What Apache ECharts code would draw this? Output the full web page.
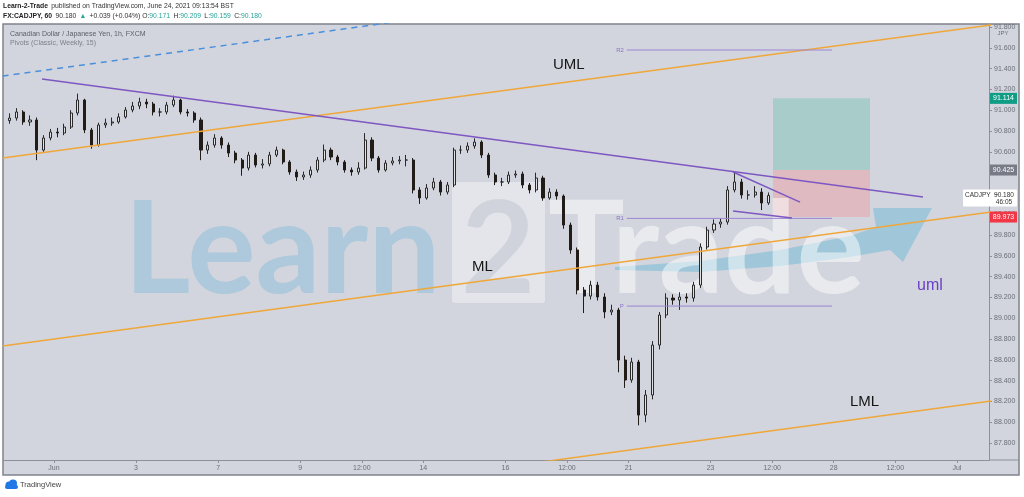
<!DOCTYPE html>
<html><head><meta charset="utf-8">
<script src="https://cdn.jsdelivr.net/npm/echarts@6/dist/echarts.min.js"></script>
<style>html,body{margin:0;padding:0;background:#fff;}#c{width:1024px;height:497px;}</style>
</head><body><div id="c"></div>
<script>
// ---- data ----
// 4-hour candles, time axis in trading hours since Jun 1 00:00
const candleStart = -26, candleStep = 4;
const firstOpen = 90.90;
const closes = [90.925,90.983,90.887,90.906,90.617,90.733,90.790,90.781,90.838,90.973,
91.098,90.810,90.665,90.858,90.877,90.887,90.935,91.002,91.040,91.079,
91.060,90.983,90.983,91.050,91.098,90.983,90.973,90.906,90.617,90.665,
90.733,90.665,90.588,90.521,90.444,90.569,90.473,90.483,90.569,90.617,
90.502,90.406,90.358,90.377,90.425,90.521,90.617,90.550,90.502,90.425,
90.406,90.444,90.713,90.540,90.425,90.492,90.512,90.521,90.521,90.233,
90.156,90.252,90.310,90.213,90.281,90.617,90.617,90.656,90.694,90.569,
90.377,90.310,90.310,90.377,90.387,90.281,90.233,90.348,90.156,90.213,
90.175,89.896,89.656,89.271,89.213,89.319,89.204,89.060,89.079,88.598,
88.406,88.579,88.069,88.262,88.742,89.031,89.194,89.175,89.204,89.194,
89.319,89.685,89.848,89.906,89.925,90.233,90.310,90.185,90.185,90.213,
90.108,90.180];
const highs = [90.97,91.02,91.00,90.95,90.93,90.76,90.82,90.83,90.87,91.00,
91.16,91.11,90.83,90.88,90.92,90.93,90.97,91.03,91.08,91.12,
91.11,91.08,91.02,91.08,91.14,91.11,91.01,90.99,90.93,90.70,
90.77,90.75,90.69,90.61,90.54,90.60,90.59,90.53,90.60,90.65,
90.63,90.52,90.43,90.41,90.46,90.55,90.67,90.64,90.57,90.52,
90.45,90.50,90.78,90.74,90.56,90.52,90.55,90.56,90.57,90.54,
90.26,90.29,90.35,90.33,90.31,90.64,90.66,90.69,90.73,90.71,
90.59,90.40,90.35,90.41,90.42,90.41,90.30,90.40,90.37,90.25,
90.24,90.19,89.92,89.68,89.30,89.36,89.35,89.24,89.13,89.10,
88.64,88.62,88.60,88.31,88.78,89.06,89.24,89.23,89.25,89.24,
89.35,89.72,89.88,89.95,89.96,90.27,90.41,90.34,90.23,90.27,
90.25,90.209];
const lows = [90.87,90.90,90.86,90.85,90.52,90.60,90.71,90.74,90.76,90.82,
90.95,90.78,90.63,90.65,90.83,90.85,90.87,90.92,90.98,91.01,
91.02,90.95,90.94,90.96,91.03,90.96,90.94,90.88,90.52,90.58,
90.64,90.63,90.55,90.49,90.37,90.42,90.45,90.44,90.46,90.55,
90.48,90.38,90.32,90.33,90.35,90.40,90.50,90.52,90.47,90.40,
90.37,90.38,90.43,90.51,90.40,90.41,90.47,90.48,90.46,90.20,
90.10,90.14,90.23,90.18,90.19,90.26,90.58,90.59,90.63,90.54,
90.35,90.28,90.27,90.29,90.35,90.25,90.20,90.21,90.13,90.14,
90.14,89.86,89.62,89.23,89.05,89.18,89.17,89.00,89.03,88.48,
88.33,88.38,87.97,88.00,88.22,88.70,89.00,89.13,89.08,89.15,
89.16,89.29,89.66,89.82,89.87,89.90,90.21,90.15,90.14,90.16,
90.04,90.09];

const xTickHours  = [0,48,96,144,180,216,264,300,336,384,420,456,492,528];
const xTickLabels = ['Jun','3','7','9','12:00','14','16','12:00','21','23','12:00','28','12:00','Jul'];
const yTicks = [87.8,88.0,88.2,88.4,88.6,88.8,89.0,89.2,89.4,89.6,89.8,90.0,90.2,90.4,90.6,90.8,91.0,91.2,91.4,91.6,91.8];

// drawings: [hour, price] end points
const dashLine   = [[-30, 91.329], [250, 91.964]];
const umlLine    = [[-30, 90.540], [548, 91.820]];
const mlLine     = [[-30, 88.733], [548, 90.021]];
const lmlLine    = [[-30, 86.915], [548, 88.204]];
const trendLine  = [[-7.0, 91.30], [508.2, 90.165]];
const wedgeUpper = [[397.1, 90.406], [436.3, 90.117]];
const wedgeLower = [[397.1, 90.031], [431.6, 89.963]];
const pivotNames  = ['R2', 'R1', 'P'];
const pivotValues = [91.579, 89.960, 89.117];
const pivotSpan   = [335, 455];
const positionSpan = [420.5, 477.2];
const targetPrice = 91.114, entryPrice = 90.425, stopPrice = 89.973, lastPrice = 90.180;

// ---- chart ----
const chart = echarts.init(document.getElementById('c'));
const candleData = closes.map((c, i) => [candleStart + candleStep * i, i === 0 ? firstOpen : closes[i - 1], c, lows[i], highs[i]]);
const axisFont = {fontFamily: 'Liberation Sans, Arial, sans-serif', fontSize: 7, color: '#6b6e78'};
function seg(data, color, width, type, z) {
  return {type: 'line', data: data, symbol: 'none', silent: true, z: z || 4,
    lineStyle: {color: color, width: width, type: type || 'solid'}};
}
const series = [
  {type: 'line', data: [], silent: true, z: 2,
    markArea: {silent: true, data: [
      [{coord: [positionSpan[0], entryPrice], itemStyle: {color: '#a8ccc9'}}, {coord: [positionSpan[1], targetPrice]}],
      [{coord: [positionSpan[0], stopPrice], itemStyle: {color: '#dfbac0'}}, {coord: [positionSpan[1], entryPrice]}]
    ]}},
  {type: 'candlestick', data: candleData, barWidth: 2.6, z: 3,
    itemStyle: {color: '#e2e2e2', color0: '#221c19', borderColor: '#2a2a2a', borderColor0: '#221c19', borderWidth: 1}},
  seg(dashLine, '#4a90dc', 1.5, [6, 5]),
  seg(umlLine, '#f0a73a', 1.5),
  seg(mlLine, '#f0a73a', 1.5),
  seg(lmlLine, '#f0a73a', 1.5),
  seg(trendLine, '#7e57c2', 1.5, 'solid', 5),
  seg(wedgeUpper, '#7e57c2', 1.5, 'solid', 5),
  seg(wedgeLower, '#7e57c2', 1.5, 'solid', 5)
];
pivotValues.forEach(v => series.push(seg([[pivotSpan[0], v], [pivotSpan[1], v]], '#9b86d3', 1)));

chart.setOption({
  animation: false,
  backgroundColor: '#ffffff',
  grid: {left: 3, right: 35, top: 24, bottom: 37},
  xAxis: {type: 'value', min: -29.8, max: 546.8,
    axisLine: {show: true, onZero: false, lineStyle: {color: '#8d9099'}},
    axisTick: {show: true, customValues: xTickHours, length: 3, lineStyle: {color: '#8d9099'}},
    axisLabel: Object.assign({customValues: xTickHours, margin: 5,
      formatter: v => { const k = xTickHours.indexOf(v); return k >= 0 ? xTickLabels[k] : ''; }}, axisFont),
    splitLine: {show: false}},
  yAxis: {type: 'value', position: 'right', min: 87.637, max: 91.829,
    axisLine: {show: true, onZero: false, lineStyle: {color: '#8d9099'}},
    axisTick: {show: true, customValues: yTicks, length: 3, lineStyle: {color: '#8d9099'}},
    axisLabel: Object.assign({customValues: yTicks, margin: 5, formatter: v => v.toFixed(3)}, axisFont),
    splitLine: {show: false}},
  series: series
});

// ---- overlay graphics positioned through the chart scales ----
const py = v => chart.convertToPixel({yAxisIndex: 0}, v);
const px = v => chart.convertToPixel({xAxisIndex: 0}, v);
const font = (s, w) => (w || 'normal') + ' ' + s + 'px "Liberation Sans", Arial, sans-serif';
const g = [];
// pane background + border
g.push({type: 'rect', z: -10, shape: {x: 3, y: 24, width: 1016, height: 451}, style: {fill: '#d2d5dd', stroke: '#80838c', lineWidth: 1.5}});
g.push({type: 'line', z: -5, shape: {x1: 989, y1: 460, x2: 1019, y2: 460}, style: {stroke: '#8d9099', lineWidth: 1}});
// watermark
const wmFont = 'bold 128px Lato, "Open Sans", sans-serif';
g.push({type: 'text', z: 1, style: {text: 'Learn', x: 124, y: 252, font: wmFont, fill: 'rgba(135,190,218,0.5)', textVerticalAlign: 'middle'}});
g.push({type: 'rect', z: 1, shape: {x: 452, y: 182, width: 93, height: 121, r: 3}, style: {fill: 'rgba(255,255,255,0.38)'}});
g.push({type: 'text', z: 1, style: {text: '2', x: 498, y: 252, font: wmFont, fill: 'rgba(200,204,212,0.7)', textAlign: 'center', textVerticalAlign: 'middle'}});
g.push({type: 'polygon', z: 1, shape: {points: [[615,267],[700,261],[780,250],[850,236],[876,227],[873,208],[932,208],[903,262],[890,250],[850,257],[780,266],[700,272],[615,270]]}, style: {fill: 'rgba(125,190,215,0.6)'}});
g.push({type: 'text', z: 1, style: {text: 'Trade', x: 548, y: 252, font: wmFont, fill: 'rgba(255,255,255,0.5)', textVerticalAlign: 'middle'}});
// drawing labels
const lbl = (t, x, y, size, color, extra) => g.push({type: 'text', z: 10, style: Object.assign({text: t, x: x, y: y, font: font(size), fill: color, textVerticalAlign: 'middle'}, extra || {})});
lbl('UML', 553, 65, 15, '#151515');
lbl('ML', 472, 267, 15, '#151515');
lbl('LML', 850, 402, 15, '#151515');
lbl('uml', 917, 286, 16, '#6a40c4');
pivotNames.forEach((n, k) => lbl(n, px(pivotSpan[0]) - 3, py(pivotValues[k]), 6, '#8a74c8', {textAlign: 'right'}));
// pane titles
lbl('Canadian Dollar / Japanese Yen, 1h, FXCM', 10, 34, 7, '#5d6069');
lbl('Pivots (Classic, Weekly, 15)', 10, 43.5, 7, '#7d808a');
lbl('JPY', 1003, 33, 6, '#6b6e78', {textAlign: 'center'});
// header
g.push({type: 'text', z: 10, style: {x: 3, y: 6, textVerticalAlign: 'middle',
  text: '{b|Learn-2-Trade} {n|published on TradingView.com, June 24, 2021 09:13:54 BST}',
  rich: {b: {font: font(6.8, 'bold'), fill: '#222'}, n: {font: font(6.8), fill: '#333'}}}});
g.push({type: 'text', z: 10, style: {x: 3, y: 16, textVerticalAlign: 'middle',
  text: '{b|FX:CADJPY, 60} {n|90.180} {g|▲} {n|+0.039 (+0.04%) O:}{g|90.171} {n|H:}{g|90.209} {n|L:}{g|90.159} {n|C:}{g|90.180}',
  rich: {b: {font: font(6.8, 'bold'), fill: '#222'}, n: {font: font(6.8), fill: '#333'}, g: {font: font(6.8), fill: '#26a69a'}}}});
// price badges on the right axis
const badge = (v, bg, fg) => {
  const y = py(v);
  g.push({type: 'rect', z: 10, shape: {x: 990, y: y - 5.5, width: 27, height: 11}, style: {fill: bg}});
  g.push({type: 'text', z: 11, style: {text: v.toFixed(3), x: 1003.5, y: y, font: font(7), fill: fg, textAlign: 'center', textVerticalAlign: 'middle'}});
};
badge(targetPrice, '#0f9d86', '#ffffff');
badge(entryPrice, '#787b86', '#ffffff');
badge(stopPrice, '#f23645', '#ffffff');
{ const y = py(lastPrice);
  g.push({type: 'rect', z: 10, shape: {x: 963, y: y - 6, width: 54, height: 17, r: 1}, style: {fill: '#ffffff'}});
  g.push({type: 'text', z: 11, style: {text: 'CADJPY  ~', x: 965, y: y, font: font(6.5), fill: '#333', textVerticalAlign: 'middle'}});
  g.push({type: 'text', z: 11, style: {text: lastPrice.toFixed(3), x: 1004, y: y, font: font(6.5), fill: '#333', textAlign: 'center', textVerticalAlign: 'middle'}});
  g.push({type: 'text', z: 11, style: {text: '46:05', x: 1004, y: y + 7, font: font(6.5), fill: '#333', textAlign: 'center', textVerticalAlign: 'middle'}});
}
// footer logo
g.push({type: 'circle', z: 10, shape: {cx: 9, cy: 485, r: 3.5}, style: {fill: '#1e78e6'}});
g.push({type: 'circle', z: 10, shape: {cx: 13, cy: 483.5, r: 4}, style: {fill: '#1e78e6'}});
g.push({type: 'rect', z: 10, shape: {x: 5, y: 485, width: 13, height: 4, r: 2}, style: {fill: '#1e78e6'}});
g.push({type: 'text', z: 10, style: {text: 'TradingView', x: 20, y: 485, font: font(7.5), fill: '#444', textVerticalAlign: 'middle'}});
chart.setOption({graphic: {elements: g}});
</script></body></html>
